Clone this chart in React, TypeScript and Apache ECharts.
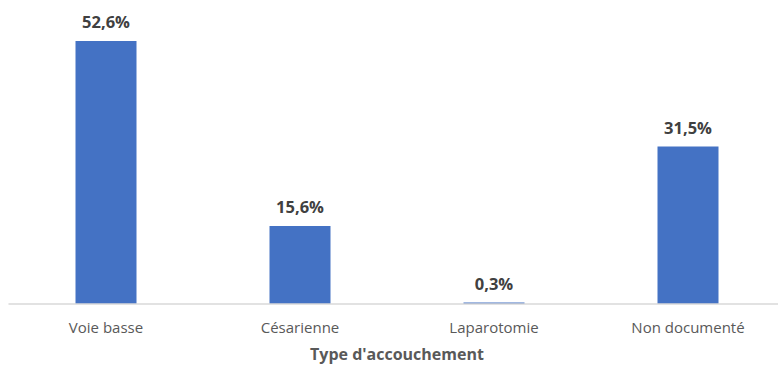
import React, { useEffect, useRef } from "react";
import * as echarts from "echarts";

const categories = ["Voie basse", "Césarienne", "Laparotomie", "Non documenté"];
const percentages = [52.6, 15.6, 0.3, 31.5];
const axisTitle = "Type d'accouchement";

const FONT = "'Open Sans', 'Noto Sans', sans-serif";

export default function App() {
  const ref = useRef<HTMLDivElement>(null);

  useEffect(() => {
    if (!ref.current) return;
    const chart = echarts.init(ref.current, undefined, { renderer: "svg" });
    chart.setOption({
      animation: false,
      backgroundColor: "#ffffff",
      grid: {
        left: 9,
        width: 776,
        top: 4,
        bottom: 61,
        containLabel: false,
        outerBoundsMode: "none",
      },
      xAxis: {
        type: "category",
        data: categories,
        z: 3,
        name: axisTitle,
        nameLocation: "middle",
        nameGap: 42,
        nameTextStyle: { fontFamily: FONT, fontSize: 16, fontWeight: "bold", color: "#595959" },
        axisLine: { show: true, lineStyle: { color: "#d9d9d9", width: 1.5 } },
        axisTick: { show: false },
        axisLabel: { fontFamily: FONT, fontSize: 15, color: "#595959", margin: 15 },
      },
      yAxis: {
        type: "value",
        min: 0,
        max: 60,
        show: false,
        splitLine: { show: false },
      },
      series: [
        {
          type: "bar",
          data: percentages,
          barWidth: 61,
          itemStyle: { color: "#4472c4" },
          label: {
            show: true,
            position: "top",
            distance: 11,
            fontFamily: FONT,
            fontSize: 16.5,
            fontWeight: "bold",
            color: "#404040",
            formatter: (p: any) => `${p.value.toFixed(1).replace(".", ",")}%`,
          },
        },
      ],
    });
    return () => chart.dispose();
  }, []);

  return (
    <div
      ref={ref}
      style={{ position: "fixed", left: 0, top: 0, width: 778, height: 365, background: "#fff" }}
    />
  );
}
